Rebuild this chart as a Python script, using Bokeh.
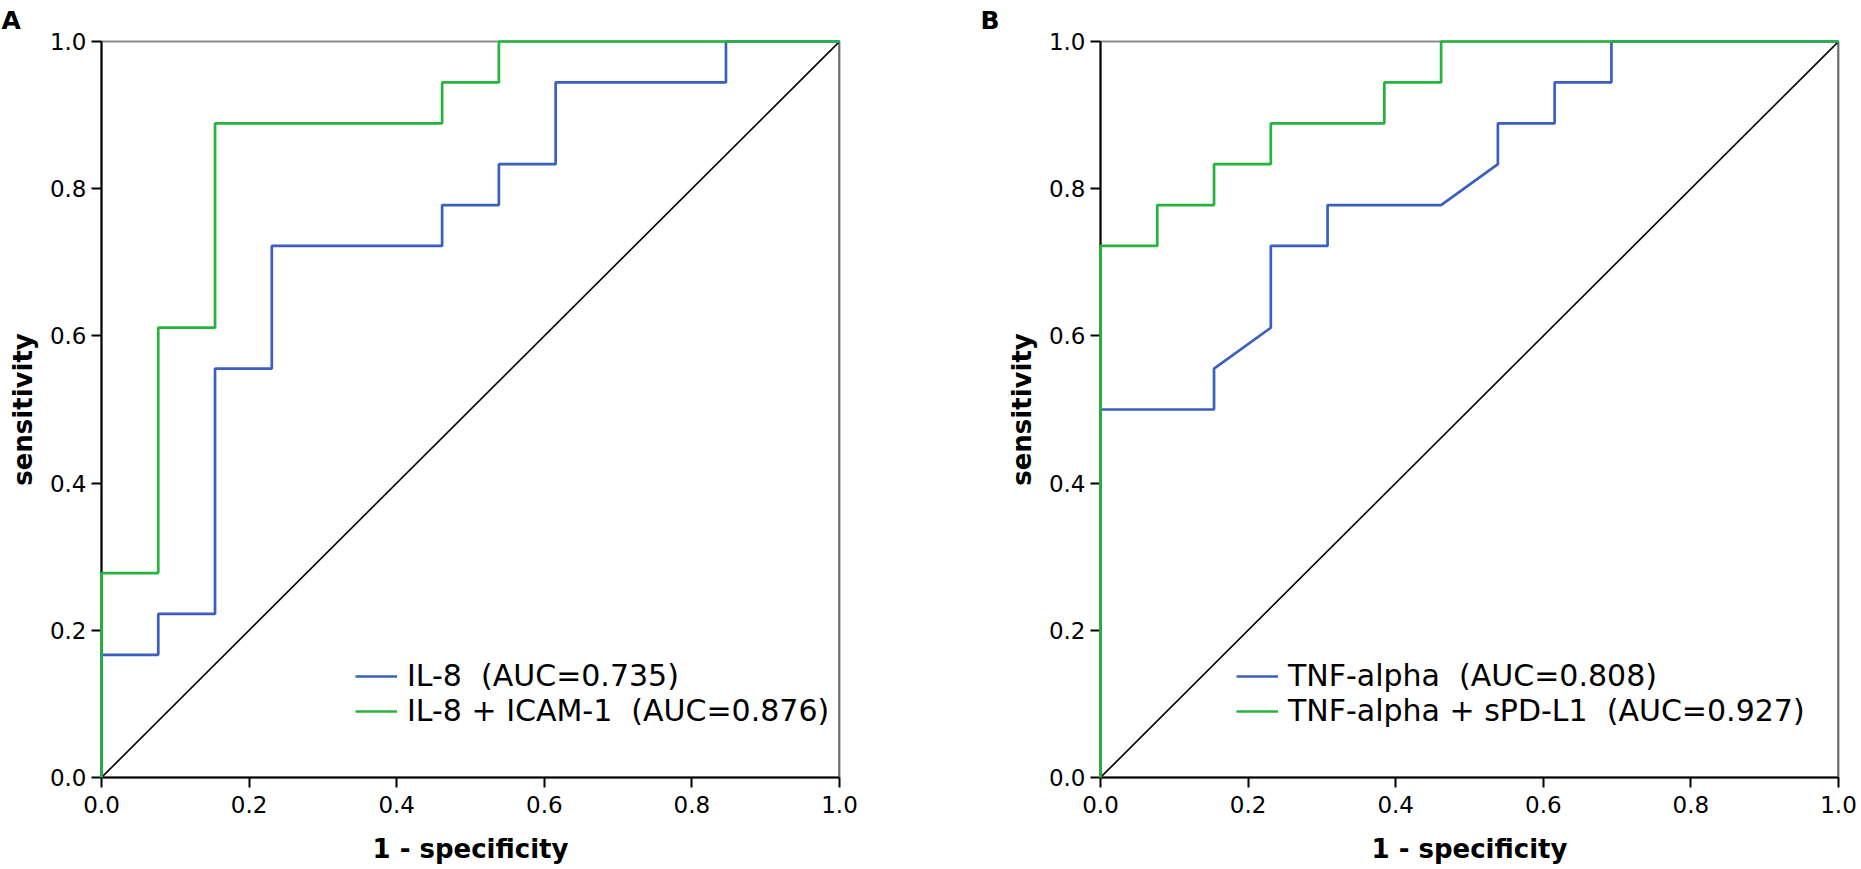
from bokeh.plotting import figure
from bokeh.models import (Legend, LegendItem, Title, Span, FixedTicker,
                          Range1d, PrintfTickFormatter)
from bokeh.layouts import row
from bokeh.embed import file_html
from bokeh.resources import INLINE

# ---------------- data (counts of false / true positives) ----------------
N_NEG = 13   # negatives  -> 1 - specificity steps of 1/13
N_POS = 18   # positives  -> sensitivity steps of 1/18

# Panel A
a_il8_fp = [0, 0, 1, 1, 2, 2, 3, 3, 6, 6, 7, 7, 8, 8, 11, 11, 13]
a_il8_tp = [0, 3, 3, 4, 4, 10, 10, 13, 13, 14, 14, 15, 15, 17, 17, 18, 18]
a_combo_fp = [0, 0, 1, 1, 2, 2, 6, 6, 7, 7, 13]
a_combo_tp = [0, 5, 5, 11, 11, 16, 16, 17, 17, 18, 18]

# Panel B
b_tnf_fp = [0, 0, 2, 2, 3, 3, 4, 4, 6, 7, 7, 8, 8, 9, 9, 13]
b_tnf_tp = [0, 9, 9, 10, 11, 13, 13, 14, 14, 15, 16, 16, 17, 17, 18, 18]
b_combo_fp = [0, 0, 1, 1, 2, 2, 3, 3, 5, 5, 6, 6, 13]
b_combo_tp = [0, 13, 13, 14, 14, 15, 15, 16, 16, 17, 17, 18, 18]

ref_x = [0, 1]
ref_y = [0, 1]

a_labels = ["IL-8  (AUC=0.735)", "IL-8 + ICAM-1  (AUC=0.876)"]
b_labels = ["TNF-alpha  (AUC=0.808)", "TNF-alpha + sPD-L1  (AUC=0.927)"]
panel_letters = ["A", "B"]
tick_values = [0.0, 0.2, 0.4, 0.6, 0.8, 1.0]
x_title = "1 - specificity"
y_title = "sensitivity"

BLUE = "#3b5fc0"
GREEN = "#27b43c"
FONT = "DejaVu Sans"
HEIGHT = 869
TOP = 39
FRAME = 738


def rates(fp, tp):
    return [v / N_NEG for v in fp], [v / N_POS for v in tp]


def make_panel(width, border_left, curves, labels, letter, letter_offset,
               legend_xy):
    p = figure(width=width, height=HEIGHT, output_backend="svg",
               toolbar_location=None,
               x_range=Range1d(0, 1), y_range=Range1d(0, 1),
               min_border_left=border_left,
               min_border_right=width - border_left - FRAME,
               min_border_top=TOP, min_border_bottom=HEIGHT - TOP - FRAME)
    p.grid.visible = False
    p.background_fill_color = "white"
    p.border_fill_color = "white"
    p.outline_line_color = "#8c8c8c"
    p.outline_line_width = 2

    for ax in (p.xaxis[0], p.yaxis[0]):
        ax.ticker = FixedTicker(ticks=tick_values)
        ax.formatter = PrintfTickFormatter(format="%.1f")
        ax.axis_line_color = "black"
        ax.axis_line_width = 2
        ax.major_tick_line_color = "black"
        ax.major_tick_line_width = 2
        ax.major_tick_in = 0
        ax.major_tick_out = 10
        ax.minor_tick_line_color = None
        ax.major_label_text_font = FONT
        ax.major_label_text_font_size = "23px"
        ax.major_label_text_color = "black"
        ax.axis_label_text_font = FONT
        ax.axis_label_text_font_size = "26px"
        ax.axis_label_text_font_style = "bold"
        ax.axis_label_text_color = "black"
    p.xaxis.axis_label = x_title
    p.yaxis.axis_label = y_title
    p.xaxis.major_label_standoff = 8
    p.xaxis.axis_label_standoff = 18
    p.yaxis.major_label_standoff = 5
    p.yaxis.axis_label_standoff = 9

    # right border of the frame
    p.add_layout(Span(location=1, dimension="height", line_color="#4a4a4a",
                      line_width=2))

    # reference diagonal
    p.line(ref_x, ref_y, line_color="black", line_width=1.6)

    items = []
    for (fp, tp), color, lab in zip(curves, [BLUE, GREEN], labels):
        xs, ys = rates(fp, tp)
        r = p.line(xs, ys, line_color=color, line_width=2.7, level="overlay")
        items.append(LegendItem(label=lab, renderers=[r]))

    legend = Legend(items=items, location=legend_xy,
                    border_line_color=None, background_fill_alpha=0,
                    padding=0, margin=0, spacing=0,
                    glyph_width=42, glyph_height=20, label_height=20,
                    label_standoff=10,
                    label_text_font=FONT, label_text_font_size="30px",
                    label_text_color="black")
    p.add_layout(legend, "center")

    p.add_layout(Title(text=letter, align="left", offset=letter_offset,
                       vertical_align="top", standoff=10,
                       text_font=FONT, text_font_size="25px",
                       text_font_style="bold", text_color="black"), "above")
    return p


pa = make_panel(920, 101,
                [(a_il8_fp, a_il8_tp), (a_combo_fp, a_combo_tp)],
                a_labels, panel_letters[0], -100, (254, 49))
pb = make_panel(941, 180,
                [(b_tnf_fp, b_tnf_tp), (b_combo_fp, b_combo_tp)],
                b_labels, panel_letters[1], -120, (136, 49))

layout = row(pa, pb, spacing=0)
open("out.html", "w").write(file_html(layout, INLINE))
